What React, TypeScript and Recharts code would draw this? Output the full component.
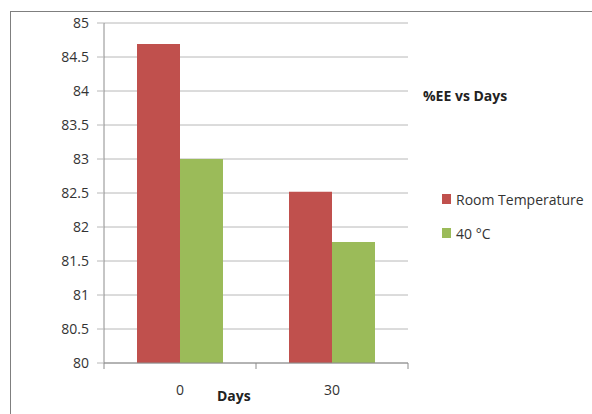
import React from 'react';
import { BarChart, Bar, XAxis, YAxis, CartesianGrid, Legend } from 'recharts';

const DAYS = ['0', '30'];
const SERIES = ['Room Temperature', '40 °C'];
const ROOM_TEMP = [84.69, 82.52];
const HOT_40 = [83.0, 81.78];
const Y_TICKS = [80, 80.5, 81, 81.5, 82, 82.5, 83, 83.5, 84, 84.5, 85];

const data = DAYS.map((day, i) => ({
    day,
    [SERIES[0]]: ROOM_TEMP[i],
    [SERIES[1]]: HOT_40[i],
}));

const W = 592;
const H = 414;
const MARGIN = { top: 23, right: 184, bottom: 21, left: 44 };
const Y_AXIS_W = 60;
const X_AXIS_H = 30;
const PLOT_W = W - MARGIN.left - Y_AXIS_W - MARGIN.right;
const BAND = PLOT_W / DAYS.length;

const FONT = '"Open Sans", sans-serif';
const AXIS_GREY = '#8c8c8c';
const GRID_GREY = '#b8b8b8';

// category label in the middle, tick marks on the band edges
function DayTick(props: any) {
    const { x, y, payload, index } = props;
    const half = BAND / 2;
    return (
        <g>
            <line x1={x - half} x2={x - half} y1={y} y2={y + 6} stroke={AXIS_GREY} />
            {index === DAYS.length - 1 && (
                <line x1={x + half} x2={x + half} y1={y} y2={y + 6} stroke={AXIS_GREY} />
            )}
            <text x={x} y={y + 26} textAnchor="middle" dominantBaseline="central" fontSize={14} fill="#333" fontFamily={FONT}>
                {payload.value}
            </text>
        </g>
    );
}

function LegendList(props: any) {
    const items = [...(props.payload || [])].sort(
        (a: any, b: any) => SERIES.indexOf(a.value) - SERIES.indexOf(b.value)
    );
    return (
        <div style={{ fontFamily: FONT, fontSize: 14, color: '#333' }}>
            {items.map((it: any) => (
                <div key={it.value} style={{ display: 'flex', alignItems: 'center', height: 34 }}>
                    <span style={{ width: 9, height: 10, background: it.color, marginRight: 5 }} />
                    <span>{it.value}</span>
                </div>
            ))}
        </div>
    );
}

export default function App() {
    return (
        <div style={{ position: 'fixed', left: 0, top: 0, width: W, height: H, background: '#fff', overflow: 'hidden' }}>
            <div style={{ position: 'absolute', left: 10, top: 11, width: W, height: H, borderTop: '1px solid #7f7f7f', borderLeft: '1px solid #7f7f7f' }} />
            <div style={{ position: 'absolute', left: 423, top: 86, fontFamily: FONT, fontSize: 14, fontWeight: 700, color: '#222' }}>
                %EE vs Days
            </div>
            <div style={{ position: 'absolute', left: 217, top: 386, fontFamily: FONT, fontSize: 14, fontWeight: 700, color: '#222' }}>
                Days
            </div>
            <BarChart
                width={W}
                height={H}
                data={data}
                margin={MARGIN}
                barGap={0}
                barCategoryGap={33}
                style={{ position: 'absolute', left: 0, top: 0 }}
            >
                <CartesianGrid vertical={false} stroke={GRID_GREY} />
                <XAxis
                    dataKey="day"
                    height={X_AXIS_H}
                    axisLine={{ stroke: AXIS_GREY }}
                    tickLine={false}
                    tickSize={0}
                    tickMargin={0}
                    tick={<DayTick />}
                />
                <YAxis
                    width={Y_AXIS_W}
                    domain={[80, 85]}
                    ticks={Y_TICKS}
                    interval={0}
                    axisLine={{ stroke: AXIS_GREY }}
                    tickLine={{ stroke: GRID_GREY }}
                    tickSize={7}
                    tickMargin={8}
                    tick={{ fontSize: 14, fill: '#333', fontFamily: FONT }}
                />
                <Legend
                    layout="vertical"
                    align="center"
                    verticalAlign="middle"
                    content={<LegendList />}
                    wrapperStyle={{ position: 'absolute', left: 442, top: 182, width: 150 }}
                />
                <Bar dataKey={SERIES[0]} fill="#c0504d" isAnimationActive={false} />
                <Bar dataKey={SERIES[1]} fill="#9bbb59" isAnimationActive={false} />
            </BarChart>
        </div>
    );
}
